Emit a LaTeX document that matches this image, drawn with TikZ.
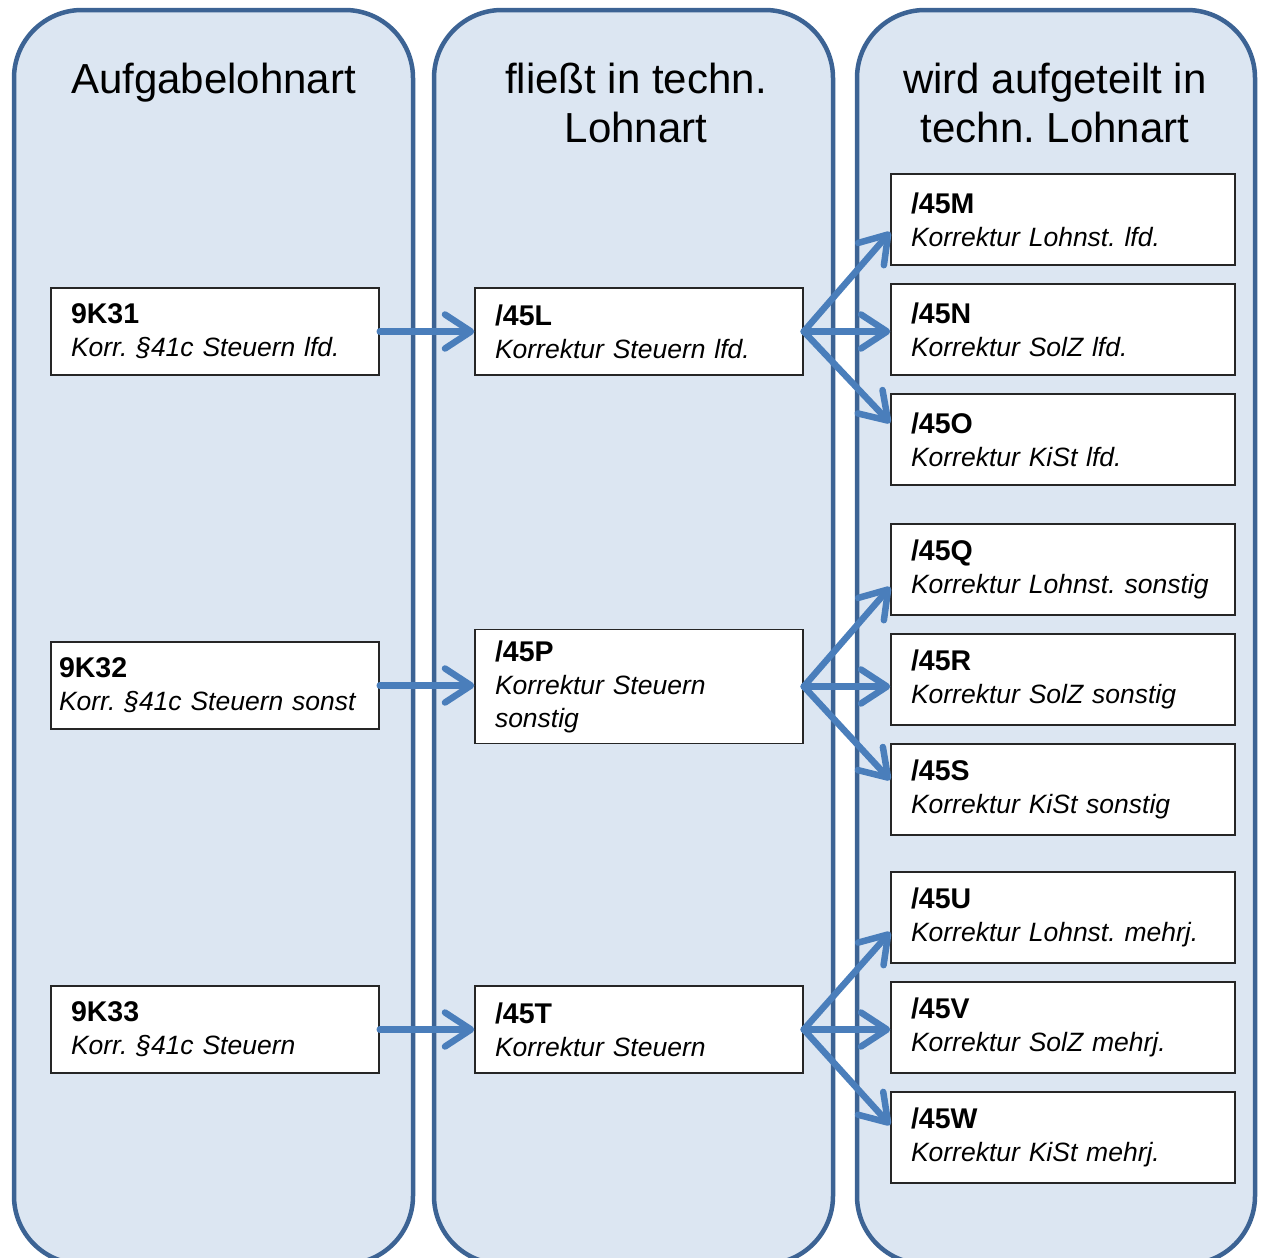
\documentclass[tikz,border=0pt]{standalone}
\usepackage{fontspec}
\setmainfont{Liberation Sans}
\usetikzlibrary{arrows.meta}
\definecolor{lanefill}{RGB}{220,230,242}
\definecolor{laneline}{RGB}{60,99,148}
\definecolor{arrowblue}{RGB}{74,126,187}
\definecolor{boxline}{RGB}{38,38,38}
\newcommand{\codett}[1]{{\fontsize{28.5}{32}\selectfont\bfseries #1}}
\begin{document}
\frenchspacing
\begin{tikzpicture}[x=1pt,y=-1pt,
 lane/.style={draw=laneline, fill=lanefill, line width=4.5pt, rounded corners=68pt},
 title/.style={font=\fontsize{42}{49}\selectfont, align=center, anchor=base, inner sep=0pt},
 codebox/.style={draw=boxline, fill=white, line width=1.5pt, rectangle, inner xsep=20pt, inner ysep=0pt, align=left, font=\fontsize{26.5}{33}\selectfont\frenchspacing, text width=#1},
 flow/.style={draw=arrowblue, line width=6.5pt, line cap=round, line join=round, -{Straight Barb[length=26pt,width=34pt,line cap=round,line join=round]}},
]
\useasboundingbox (0,0) rectangle (1261,1258);
\clip (0,0) rectangle (1261,1258);
% lanes
\path[lane] (14,10) rectangle (413,1264);
\path[lane] (434,10) rectangle (833,1264);
\path[lane] (857,10) rectangle (1255,1264);
% titles
\node[title] (t1) at (213.5,93) {Aufgabelohnart};
\node[title] (t2) at (636,142) {flie\ss t in techn.\\Lohnart};
\node[title] (t3) at (1055,142) {wird aufgeteilt in\\techn. Lohnart};
% left boxes
\node[codebox=288pt, minimum width=328pt, minimum height=87pt] (k31) at (215,331.5) {\codett{9K31}\\\textit{Korr. §41c Steuern lfd.}};
\node[codebox=312pt, inner xsep=8pt, minimum width=328pt, minimum height=87pt] (k32) at (215,685.5) {\codett{9K32}\\\textit{Korr. §41c Steuern sonst}};
\node[codebox=288pt, minimum width=328pt, minimum height=87pt] (k33) at (215,1029.5) {\codett{9K33}\\\textit{Korr. §41c Steuern}};
% middle boxes
\node[codebox=288pt, minimum width=328pt, minimum height=87pt] (l) at (639,331.5) {\codett{/45L}\\\textit{Korrektur Steuern lfd.}};
\node[codebox=288pt, minimum width=328pt, minimum height=114pt] (p) at (639,686.5) {\codett{/45P}\\\textit{Korrektur Steuern}\\\textit{sonstig}};
\node[codebox=288pt, minimum width=328pt, minimum height=87pt] (t) at (639,1029.5) {\codett{/45T}\\\textit{Korrektur Steuern}};
% right boxes
\foreach \nm/\yy/\code/\txt in {m/219.5/45M/Korrektur Lohnst. lfd., n/329.5/45N/Korrektur SolZ lfd., o/439.5/45O/Korrektur KiSt lfd., q/569.5/45Q/Korrektur Lohnst. sonstig, r/679.5/45R/Korrektur SolZ sonstig, s/789.5/45S/Korrektur KiSt sonstig, u/917.5/45U/Korrektur Lohnst. mehrj., v/1027.5/45V/Korrektur SolZ mehrj., w/1137.5/45W/Korrektur KiSt mehrj.}
  \node[codebox=304pt, minimum width=344pt, minimum height=91pt] (\nm) at (1063,\yy) {\codett{/\code}\\\textit{\txt}};
% arrows left -> middle
\draw[flow] (k31.east) -- (l.west);
\draw[flow] (k32.east) -- (k32.east -| p.west);
\draw[flow] (k33.east) -- (t.west);
% fans
\draw[flow] (l.east) -- ([yshift=-12.5pt]m.west);
\draw[flow] (l.east) -- (l.east -| n.west);
\draw[flow] (l.east) -- ([yshift=16.5pt]o.west);
\draw[flow] (p.east) -- ([yshift=-17.5pt]q.west);
\draw[flow] (p.east) -- (p.east -| r.west);
\draw[flow] (p.east) -- ([yshift=9.5pt]s.west);
\draw[flow] (t.east) -- ([yshift=-14.5pt]u.west);
\draw[flow] (t.east) -- (t.east -| v.west);
\draw[flow] (t.east) -- ([yshift=12.5pt]w.west);
\end{tikzpicture}
\end{document}
